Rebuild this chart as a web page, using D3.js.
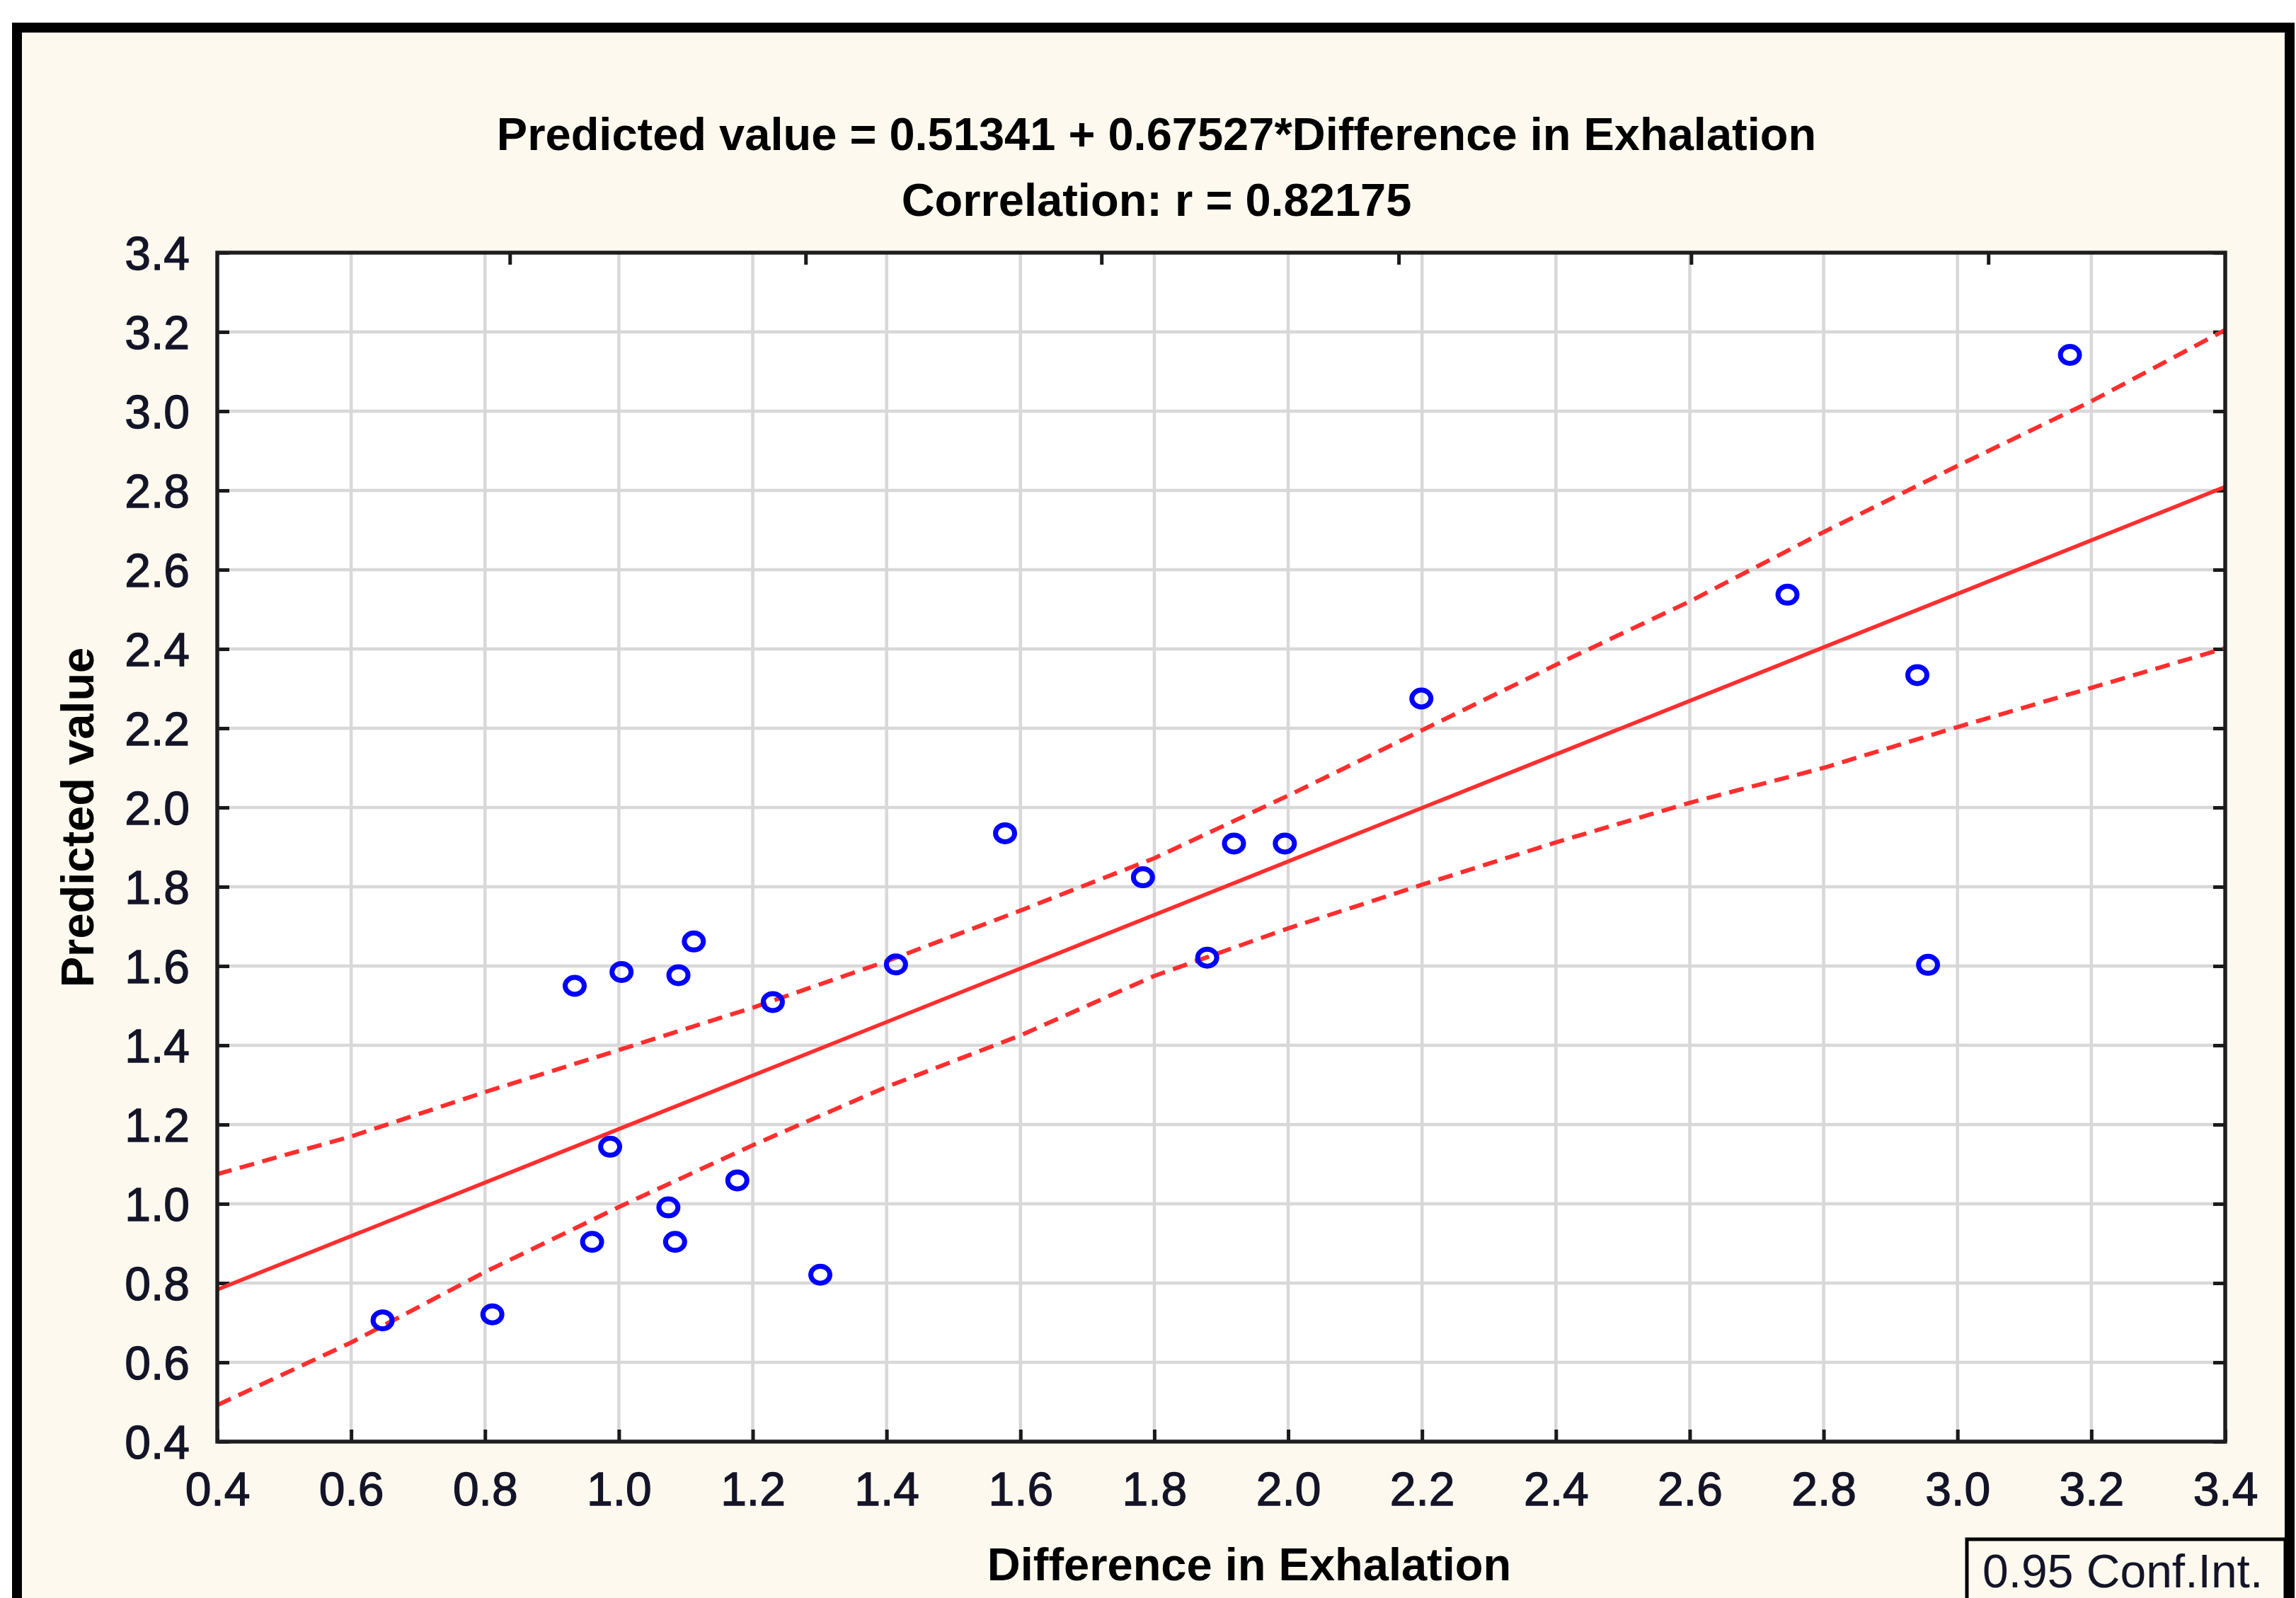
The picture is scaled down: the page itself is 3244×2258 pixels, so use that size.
<!DOCTYPE html>
<html>
<head>
<meta charset="utf-8">
<script src="https://cdn.jsdelivr.net/npm/d3@7"></script>
<style>
  body { margin: 0; background: #fff; }
  text { font-family: "Liberation Sans", Arial, sans-serif; }
</style>
</head>
<body>
<svg id="chart" width="3244" height="2258"></svg>
<script>
var diffExhalation = [0.647, 0.811, 0.934, 1.004, 0.960, 0.987, 1.074, 1.084, 1.089, 1.112,
                      1.177, 1.230, 1.301, 1.414, 1.577, 1.783, 1.879, 1.919, 1.995, 2.199,
                      2.746, 2.940, 2.956, 3.168];
var predictedValue = [0.706, 0.721, 1.550, 1.585, 0.904, 1.144, 0.991, 0.904, 1.577, 1.662,
                      1.059, 1.509, 0.821, 1.604, 1.935, 1.824, 1.621, 1.909, 1.909, 2.275,
                      2.537, 2.334, 1.603, 3.142];

var bandX     = [0.4, 0.6, 0.8, 1.0, 1.2, 1.4, 1.6, 1.8, 2.0, 2.2, 2.4, 2.6, 2.8, 3.0, 3.2, 3.4];
var upperBand = [1.075, 1.170, 1.282, 1.388, 1.495, 1.612, 1.740, 1.872, 2.030, 2.195, 2.360, 2.520, 2.695, 2.862, 3.025, 3.205];
var lowerBand = [0.492, 0.650, 0.828, 0.992, 1.148, 1.295, 1.425, 1.575, 1.695, 1.805, 1.912, 2.012, 2.100, 2.203, 2.302, 2.402];

var intercept = 0.51341, slope = 0.67527;

var xTicks = [0.4, 0.6, 0.8, 1.0, 1.2, 1.4, 1.6, 1.8, 2.0, 2.2, 2.4, 2.6, 2.8, 3.0, 3.2, 3.4];
var yTicks = [0.4, 0.6, 0.8, 1.0, 1.2, 1.4, 1.6, 1.8, 2.0, 2.2, 2.4, 2.6, 2.8, 3.0, 3.2, 3.4];
var topTicks = [0.837, 1.279, 1.721, 2.165, 2.602, 3.046];

var titleLines = ["Predicted value = 0.51341 + 0.67527*Difference in Exhalation",
                  "Correlation: r = 0.82175"];

var margin = {top: 357, right: 100, bottom: 221, left: 307},
    width = 3144 - margin.left,
    height = 2037 - margin.top;

var svg = d3.select("#chart");

// cream panel with heavy black frame
svg.append("rect")
    .attr("x", 24).attr("y", 39)
    .attr("width", 3211).attr("height", 2300)
    .style("fill", "#fdf9ee")
    .style("stroke", "#000")
    .style("stroke-width", 14);

svg.selectAll(".title")
    .data(titleLines)
  .enter().append("text")
    .attr("class", "title")
    .attr("x", 1634)
    .attr("y", function(d, i) { return 212 + i * 93; })
    .style("text-anchor", "middle")
    .style("font-weight", "bold")
    .style("font-size", "65px")
    .text(function(d) { return d; });

var x = d3.scaleLinear().domain([0.4, 3.4]).range([0, width]);
var y = d3.scaleLinear().domain([0.4, 3.4]).range([height, 0]);

var g = svg.append("g")
    .attr("transform", "translate(" + margin.left + "," + margin.top + ")");

g.append("rect")
    .attr("width", width)
    .attr("height", height)
    .style("fill", "#fff");

g.append("g")
    .selectAll("line")
    .data(xTicks.slice(1, -1))
  .enter().append("line")
    .attr("x1", function(d) { return x(d); })
    .attr("x2", function(d) { return x(d); })
    .attr("y1", 0).attr("y2", height)
    .style("stroke", "#d8d8d8")
    .style("stroke-width", 4.5);

g.append("g")
    .selectAll("line")
    .data(yTicks.slice(1, -1))
  .enter().append("line")
    .attr("y1", function(d) { return y(d); })
    .attr("y2", function(d) { return y(d); })
    .attr("x1", 0).attr("x2", width)
    .style("stroke", "#d8d8d8")
    .style("stroke-width", 4.5);

var xAxis = d3.axisBottom(x)
    .tickValues(xTicks)
    .tickFormat(d3.format(".1f"))
    .tickSizeInner(-17)
    .tickSizeOuter(0)
    .tickPadding(43);

var yAxis = d3.axisLeft(y)
    .tickValues(yTicks)
    .tickFormat(d3.format(".1f"))
    .tickSizeInner(-17)
    .tickSizeOuter(0)
    .tickPadding(39);

g.append("g")
    .attr("class", "x axis")
    .attr("transform", "translate(0," + height + ")")
    .call(xAxis);

g.append("g")
    .attr("class", "y axis")
    .call(yAxis)
    .selectAll("text")
    .attr("dy", "0.36em");

g.append("g")
    .attr("transform", "translate(" + width + ",0)")
    .call(d3.axisRight(y).tickValues(yTicks).tickSizeInner(-17).tickSizeOuter(0).tickFormat(""));

g.append("g")
    .call(d3.axisTop(x).tickValues(topTicks).tickSizeInner(-17).tickSizeOuter(0).tickFormat(""));

g.selectAll(".domain").remove();
g.selectAll(".tick line")
    .style("stroke", "#1a1a1a")
    .style("stroke-width", 5);
g.selectAll(".tick text")
    .style("font-size", "66px")
    .style("font-family", "'Liberation Sans', Arial, sans-serif")
    .style("fill", "#141428")
    .style("stroke", "#141428")
    .style("stroke-width", 1.3);

var line = d3.line()
    .x(function(d) { return x(d[0]); })
    .y(function(d) { return y(d[1]); });

g.append("path")
    .datum(bandX.map(function(d, i) { return [d, upperBand[i]]; }))
    .attr("d", line)
    .style("fill", "none")
    .style("stroke", "#ff2e2e")
    .style("stroke-width", 6)
    .style("stroke-dasharray", "21,12");

g.append("path")
    .datum(bandX.map(function(d, i) { return [d, lowerBand[i]]; }))
    .attr("d", line)
    .style("fill", "none")
    .style("stroke", "#ff2e2e")
    .style("stroke-width", 6)
    .style("stroke-dasharray", "21,12");

g.append("path")
    .datum(x.domain().map(function(d) { return [d, intercept + slope * d]; }))
    .attr("d", line)
    .style("fill", "none")
    .style("stroke", "#ff2e2e")
    .style("stroke-width", 5.5);

g.selectAll(".dot")
    .data(diffExhalation)
  .enter().append("ellipse")
    .attr("class", "dot")
    .attr("cx", function(d) { return x(d); })
    .attr("cy", function(d, i) { return y(predictedValue[i]); })
    .attr("rx", 13.5)
    .attr("ry", 12)
    .style("fill", "none")
    .style("stroke", "#0000ff")
    .style("stroke-width", 7);

g.append("rect")
    .attr("width", width)
    .attr("height", height)
    .style("fill", "none")
    .style("stroke", "#1e1e1e")
    .style("stroke-width", 5.5);

svg.append("text")
    .attr("x", 1765)
    .attr("y", 2233)
    .style("text-anchor", "middle")
    .style("font-weight", "bold")
    .style("font-size", "65px")
    .text("Difference in Exhalation");

svg.append("text")
    .attr("transform", "translate(132,1155) rotate(-90)")
    .style("text-anchor", "middle")
    .style("font-weight", "bold")
    .style("font-size", "65px")
    .text("Predicted value");

// legend box at the bottom-right corner
svg.append("rect")
    .attr("x", 2779).attr("y", 2175)
    .attr("width", 450).attr("height", 150)
    .style("fill", "#fdf9ee")
    .style("stroke", "#000")
    .style("stroke-width", 5);

svg.append("text")
    .attr("x", 2801)
    .attr("y", 2243)
    .style("font-size", "66px")
    .style("fill", "#141428")
    .text("0.95 Conf.Int.");
</script>
</body>
</html>
